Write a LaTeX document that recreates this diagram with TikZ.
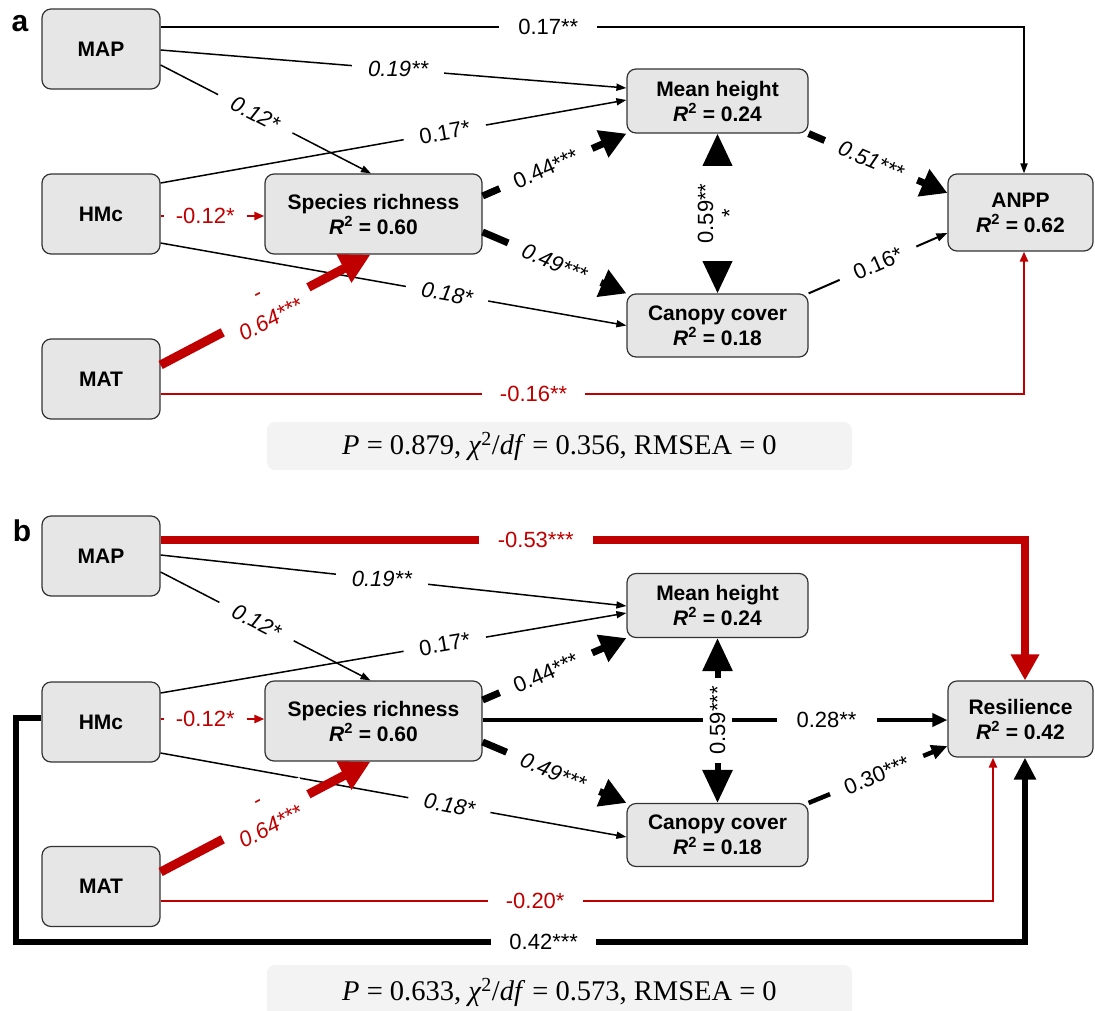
\documentclass[tikz,border=0pt]{standalone}
\usepackage{fontspec}
\setmainfont{Liberation Sans}
\newfontfamily\statfont{Liberation Serif}
\usetikzlibrary{arrows.meta,calc}
\definecolor{myred}{HTML}{C00000}
\definecolor{boxfill}{HTML}{E6E6E6}
\definecolor{statfill}{HTML}{F3F3F3}
\tikzset{
  var/.style={draw=black!80, line width=1.2pt, fill=boxfill, rounded corners=9pt,
    minimum width=118pt, minimum height=80pt, inner sep=0pt, align=center,
    font=\bfseries\fontsize{21}{25}\selectfont},
  lab/.style={fill=white, inner xsep=16pt, inner ysep=1pt, font=\fontsize{22}{24}\selectfont},
  ilab/.style={lab, font=\itshape\fontsize{22}{24}\selectfont},
  rlab/.style={lab, text=myred},
  minuslab/.style={fill=white, text=myred, inner xsep=14pt, inner ysep=1pt, align=center,
    font=\itshape\fontsize{22}{30}\selectfont},
  thinarr/.style={draw=black, line width=1.5pt, -{Triangle[length=10pt,width=7pt]}},
  redthin/.style={draw=myred, line width=2.2pt, -{Triangle[length=10pt,width=8pt]}},
  redthick/.style={draw=myred, line width=9pt, -{Triangle[length=30pt,width=30pt]}},
  redtop/.style={draw=myred, line width=8pt, -{Triangle[length=26pt,width=27pt]}},
  thickarr/.style={draw=black, line width=7pt, -{Triangle[length=26pt,width=28pt]}},
  medarr/.style={draw=black, line width=2pt, -{Triangle[length=11pt,width=8pt]}},
  midarr/.style={draw=black, line width=3.5pt, -{Triangle[length=15pt,width=13pt]}},
  arrthirty/.style={draw=black, line width=4.5pt, -{Triangle[length=16pt,width=14pt]}},
  dblarr/.style={draw=black, line width=6pt, {Triangle[length=33pt,width=29pt]}-{Triangle[length=33pt,width=29pt]}},
  loopb/.style={draw=black, line width=6pt, line join=miter, -{Triangle[length=22pt,width=21pt]}},
  panel/.style={font=\bfseries\fontsize{30}{30}\selectfont, inner sep=0pt},
  stats/.style={fill=statfill, rounded corners=8pt, inner sep=0pt, font=\statfont\fontsize{28.5}{30}\selectfont}
}
\begin{document}
\begin{tikzpicture}[x=1pt,y=-1pt]
\useasboundingbox (0,0) rectangle (1095,1010);
% ---------------- panel a ----------------
\node[panel] (lbla) at (20,24) {a};
\node[var] (MAPa) at (101,49) {MAP};
\node[var] (HMCa) at (101,214) {HMc};
\node[var] (MATa) at (101,379) {MAT};
\node[var, minimum width=217pt] (SRa) at (373.5,214) {Species richness\\\textit{R}\textsuperscript{2} = 0.60};
\node[var, minimum width=181pt, minimum height=64pt] (MHa) at (717.5,101) {Mean height\\\textit{R}\textsuperscript{2} = 0.24};
\node[var, minimum width=181pt, minimum height=63pt] (CCa) at (717.5,325.5) {Canopy cover\\\textit{R}\textsuperscript{2} = 0.18};
\node[var, minimum width=145pt, minimum height=77pt] (ANPP) at (1020.5,212.5) {ANPP\\\textit{R}\textsuperscript{2} = 0.62};

\draw[thinarr, line width=1.8pt] ([yshift=22pt]MAPa.east) -| node[lab, pos=0.2245, inner xsep=19pt]{0.17**} ([xshift=3.5pt]ANPP.north);
\draw[thinarr] ([yshift=-1pt]MAPa.east) -- node[ilab, pos=0.51]{0.19**} ([yshift=13pt]MHa.west);
\draw[thinarr] ([yshift=-16pt]MAPa.east) -- node[ilab, sloped, pos=0.45]{0.12*} ([xshift=-2.5pt]SRa.north);
\draw[thinarr] ([yshift=31pt]HMCa.east) -- node[lab, sloped, pos=0.61]{0.17*} ([yshift=1pt]MHa.west);
\draw[redthin] ([yshift=-2pt]HMCa.east) -- node[rlab, pos=0.43, inner xsep=12pt]{-0.12*} ([yshift=-2pt]SRa.west);
\draw[thinarr] ([yshift=-29pt]HMCa.east) -- node[ilab, sloped, pos=0.615]{0.18*} (CCa.west);
\draw[redthick] ([yshift=14pt]MATa.east) -- node[minuslab, sloped, pos=0.5]{-\\0.64***} ([xshift=-3pt]SRa.south);
\draw[thickarr] ([yshift=18pt]SRa.east) -- node[lab, sloped, pos=0.44]{0.44***} (MHa.south west);
\draw[thickarr] ([yshift=-18pt]SRa.east) -- node[ilab, sloped, pos=0.5]{0.49***} (CCa.north west);
\draw[dblarr] (MHa.south) -- node[lab, rotate=90, align=center, inner xsep=18pt, inner ysep=2pt]{0.59**\\*} (CCa.north);
\draw[thickarr] (MHa.south east) -- node[ilab, sloped, pos=0.45]{0.51***} ([yshift=19.5pt]ANPP.west);
\draw[medarr] (CCa.north east) -- node[lab, sloped, pos=0.5]{0.16*} ([yshift=-20.5pt]ANPP.west);
\draw[redthin] ([yshift=-15pt]MATa.east) -| node[rlab, pos=0.216, inner xsep=18pt]{-0.16**} ([xshift=3.5pt]ANPP.south);

\node[stats, minimum width=585pt, minimum height=48pt] (statsa) at (559.5,446)
  {\textit{P} = 0.879, \textit{χ}\textsuperscript{2}/\textit{df} = 0.356, RMSEA = 0};

% ---------------- panel b ----------------
\node[panel] (lblb) at (22,531) {b};
\node[var] (MAPb) at (101,556) {MAP};
\node[var] (HMCb) at (101,722) {HMc};
\node[var] (MATb) at (101,886.5) {MAT};
\node[var, minimum width=217pt] (SRb) at (373.5,721) {Species richness\\\textit{R}\textsuperscript{2} = 0.60};
\node[var, minimum width=181pt, minimum height=64pt] (MHb) at (717.5,605.5) {Mean height\\\textit{R}\textsuperscript{2} = 0.24};
\node[var, minimum width=181pt, minimum height=63pt] (CCb) at (717.5,835) {Canopy cover\\\textit{R}\textsuperscript{2} = 0.18};
\node[var, minimum width=145pt, minimum height=76pt] (RES) at (1020.5,719) {Resilience\\\textit{R}\textsuperscript{2} = 0.42};

\draw[redtop] ([yshift=16pt]MAPb.east) -| node[rlab, pos=0.217, inner xsep=19pt]{-0.53***} ([xshift=4.5pt]RES.north);
\draw[thinarr] ([yshift=1pt]MAPb.east) -- node[ilab, pos=0.475]{0.19**} ([yshift=-0.5pt]MHb.west);
\draw[thinarr] ([yshift=-16pt]MAPb.east) -- node[ilab, sloped, pos=0.457]{0.12*} ([xshift=-3pt]SRb.north);
\draw[thinarr] ([yshift=29pt]HMCb.east) -- node[lab, sloped, pos=0.61]{0.17*} ([yshift=-7.5pt]MHb.west);
\draw[redthin] ([yshift=3pt]HMCb.east) -- node[rlab, pos=0.43, inner xsep=12pt]{-0.12*} ([yshift=2pt]SRb.west);
\draw[thinarr] ([yshift=-31pt]HMCb.east) -- node[ilab, sloped, pos=0.62]{0.18*} ([yshift=-2pt]CCb.west);
\draw[redthick] ([yshift=14.5pt]MATb.east) -- node[minuslab, sloped, pos=0.5]{-\\0.64***} ([xshift=-3pt]SRb.south);
\draw[thickarr] ([yshift=21pt]SRb.east) -- node[lab, sloped, pos=0.44]{0.44***} (MHb.south west);
\draw[thickarr] ([yshift=-21pt]SRb.east) -- node[ilab, sloped, pos=0.49]{0.49***} (CCb.north west);
\draw[midarr] ([yshift=1pt]SRb.east) -- node[lab, pos=0.74, inner xsep=20pt]{0.28**} ([yshift=-1pt]RES.west);
\draw[dblarr] (MHb.south) -- node[lab, rotate=90, inner xsep=8pt, inner ysep=7pt]{0.59***} (CCb.north);
\draw[arrthirty] (CCb.north east) -- node[lab, sloped, pos=0.49]{0.30***} ([yshift=-27pt]RES.west);
\draw[redthin] ([yshift=-14.5pt]MATb.east) -| node[rlab, pos=0.225, inner xsep=18pt]{-0.20*} ([xshift=-27.5pt]RES.south);
\coordinate (hbl) at (16,942);
\coordinate (hbr) at (1025,942);
\draw[loopb] ([yshift=4pt]HMCb.west) -| (hbl) -- node[lab, pos=0.523, inner xsep=18pt]{0.42***} (hbr) -- ([xshift=4.5pt]RES.south);

\node[stats, minimum width=585pt, minimum height=55pt] (statsb) at (559.5,992.5)
  {\textit{P} = 0.633, \textit{χ}\textsuperscript{2}/\textit{df} = 0.573, RMSEA = 0};
\end{tikzpicture}
\end{document}
